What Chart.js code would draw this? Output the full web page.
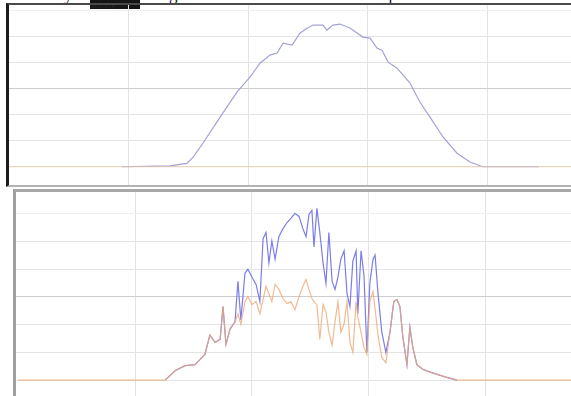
<!DOCTYPE html>
<html>
<head>
<meta charset="utf-8">
<script src="https://cdn.jsdelivr.net/npm/chart.js@4"></script>
<style>
  html, body { margin: 0; padding: 0; background: #fff; }
  body { width: 571px; height: 396px; position: relative; overflow: hidden; font-family: "Liberation Serif", serif; }
  .cut { position: absolute; top: -14px; font-size: 17px; line-height: 17px; color: #111; white-space: nowrap; }
  .mark { position: absolute; left: 90px; top: 0; width: 50px; height: 9px; background: #151515; color: #262626; font-size: 11px; line-height: 9px; overflow: hidden; }
  #topBox { position: absolute; left: 6px; top: 3px; width: 562px; height: 180px; border-left: 3px solid #1b1b1b; border-top: 2px solid #4a4a4a; border-bottom: 2px solid #b4b4b4; }
  #bottomBox { position: absolute; left: 13px; top: 189px; width: 555px; height: 207px; border-left: 3px solid #a0a0a0; border-top: 3px solid #a8a8a8; }
  canvas { filter: blur(0.35px); }
</style>
</head>
<body>
<span class="cut" style="left:48px">day</span>
<span class="mark">sunny</span>
<span class="cut" style="left:152px">ong</span>
<span class="cut" style="left:380px">up</span>
<div id="topBox"><canvas id="topChart"></canvas></div>
<div id="bottomBox"><canvas id="bottomChart"></canvas></div>
<script>
// --- DATA (hours of day, values in W) ---
const topHours = [0, 3.8, 5.4, 5.96, 6.17, 6.5, 7.07, 7.63, 8.07, 8.4, 8.73, 8.97, 9.17, 9.47, 9.73, 9.97,
  10.17, 10.5, 10.63, 10.83, 11.07, 11.4, 11.83, 12.07, 12.3, 12.47, 12.67, 12.97, 13.4, 13.73, 14.07, 14.5,
  14.97, 15.4, 15.83, 16.4, 17.7, 19];
const topSolar = [null, 0, 3, 13, 37, 91, 190, 286, 344, 397, 428, 436, 474, 466, 512, 531,
  543, 543, 524, 543, 547, 532, 497, 493, 455, 447, 401, 378, 321, 248, 190, 114,
  52, 18, 0, 0, 0, null];
const topOutHours = [0, 19];
const topOutput = [0, 0];

const bottomHours = [0, 5.03, 5.37, 5.71, 6.05, 6.22, 6.39, 6.56, 6.74, 6.91, 7.01, 7.11, 7.25, 7.42, 7.52, 7.62,
  7.76, 7.86, 8.00, 8.14, 8.27, 8.38, 8.48, 8.58, 8.68, 8.79, 8.92, 9.06, 9.20, 9.33, 9.47, 9.61,
  9.74, 9.85, 9.95, 10.05, 10.12, 10.22, 10.32, 10.43, 10.53, 10.63, 10.74, 10.84, 10.94, 11.04, 11.15, 11.25,
  11.35, 11.45, 11.56, 11.62, 11.73, 11.83, 11.93, 12.03, 12.14, 12.21, 12.31, 12.44, 12.58, 12.72, 12.85, 12.96,
  13.06, 13.16, 13.30, 13.40, 13.50, 13.64, 13.85, 14.15, 14.60, 15.01, 19];
const bottomSolar = [null, 0, 34, 52, 56, 74, 93, 162, 136, 147, 265, 129, 184, 210, 356, 217,
  385, 400, 371, 345, 283, 510, 532, 422, 502, 436, 517, 546, 568, 583, 601, 590,
  546, 517, 598, 612, 480, 619, 532, 422, 349, 532, 356, 327, 371, 436, 466, 312,
  265, 429, 466, 239, 466, 378, 100, 349, 436, 451, 312, 173, 100, 173, 283, 290,
  265, 155, 56, 191, 118, 56, 38, 27, 12, 0, null];
const bottomOutput = [0, 0, 34, 52, 56, 74, 93, 162, 136, 147, 265, 129, 184, 210, 239, 202,
  283, 301, 272, 283, 239, 290, 338, 312, 283, 345, 327, 294, 276, 283, 254, 301,
  338, 363, 327, 294, 283, 272, 147, 272, 246, 173, 126, 210, 283, 173, 202, 283,
  136, 100, 283, 228, 173, 118, 93, 283, 319, 257, 162, 82, 63, 173, 283, 290,
  265, 155, 56, 191, 118, 56, 38, 27, 12, 0, 0];

const hourGrid = [4, 8, 12, 16];
const valueGrid = [0, 100, 200, 300, 400, 500, 600];

// --- Charts ---
function points(xs, ys) {
  return xs.map((x, i) => ({ x: x, y: ys[i] }));
}

function keepTicks(list) {
  return axis => { axis.ticks = list.map(v => ({ value: v })); };
}

function makeChart(id, cfg) {
  const ctx = document.getElementById(id).getContext('2d');
  return new Chart(ctx, {
    type: 'line',
    data: { datasets: cfg.datasets },
    options: {
      responsive: true,
      maintainAspectRatio: false,
      animation: false,
      events: [],
      layout: { padding: 0 },
      elements: { point: { radius: 0 }, line: { borderWidth: 1.2, tension: 0 } },
      plugins: { legend: { display: false }, tooltip: { enabled: false } },
      scales: {
        x: {
          type: 'linear', min: cfg.xMin, max: cfg.xMax,
          afterBuildTicks: keepTicks(hourGrid),
          afterFit: s => { s.height = 0; },
          ticks: { display: false },
          border: { display: false },
          grid: { color: '#e2e2e2', drawTicks: false }
        },
        y: {
          type: 'linear', min: cfg.yMin, max: cfg.yMax,
          afterBuildTicks: keepTicks(valueGrid),
          afterFit: s => { s.width = 0; },
          ticks: { display: false },
          border: { display: false },
          grid: {
            drawTicks: false,
            color: c => c.tick && c.tick.value === 300 ? '#cdcdcd' : (c.tick && c.tick.value === 600 ? '#f0f0f0' : '#e4e4e4')
          }
        }
      }
    }
  });
}

window.addEventListener('DOMContentLoaded', () => {
  makeChart('topChart', {
    xMin: 0.03, xMax: 18.77, yMin: -70, yMax: 620,
    datasets: [
      { label: 'Output', data: points(topOutHours, topOutput), borderColor: 'rgba(240,200,160,0.7)' },
      { label: 'Solar', data: points(topHours, topSolar), borderColor: '#a2a2d8', spanGaps: false }
    ]
  });
  makeChart('bottomChart', {
    xMin: -0.07, xMax: 18.91, yMin: -68, yMax: 678,
    datasets: [
      { label: 'Output', data: points(bottomHours, bottomOutput), borderColor: 'rgba(236,170,120,0.8)' },
      { label: 'Solar', data: points(bottomHours, bottomSolar), borderColor: '#7c7cec', spanGaps: false }
    ]
  });
});
</script>
</body>
</html>
